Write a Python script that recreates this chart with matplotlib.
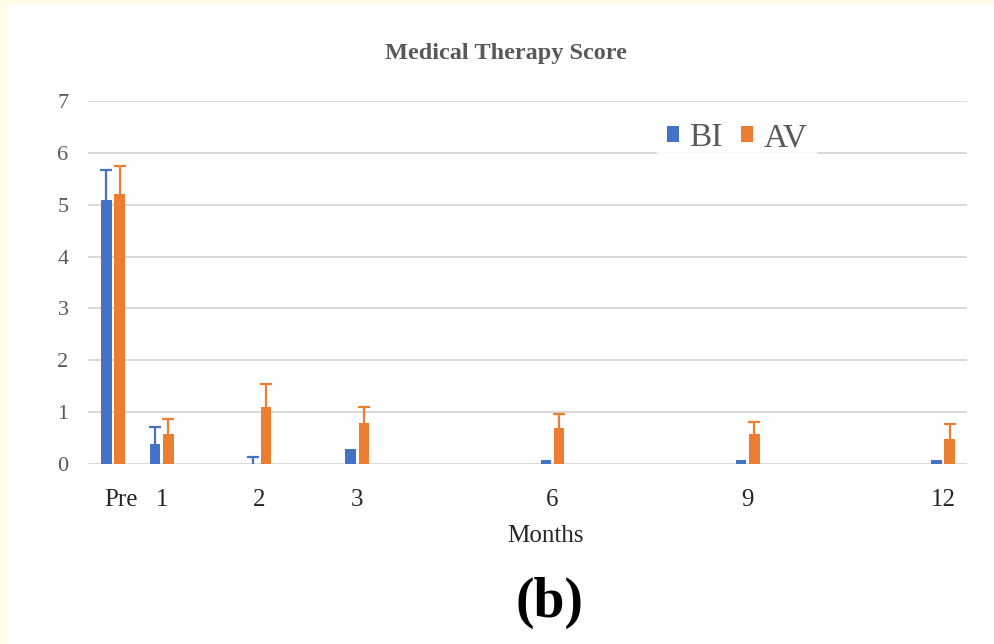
import numpy as np
import matplotlib.pyplot as plt
from matplotlib.transforms import ScaledTranslation

# values
months = ['Pre', '1', '2', '3', '6', '9', '12']
bi_mean = [5.1, 0.38, 0.0, 0.29, 0.08, 0.08, 0.08]
bi_err = [0.56, 0.33, 0.14, 0.0, 0.0, 0.0, 0.0]
av_mean = [5.2, 0.58, 1.09, 0.80, 0.70, 0.58, 0.48]
av_err = [0.54, 0.28, 0.46, 0.29, 0.27, 0.23, 0.29]

# layout: where each month group sits along the axis (uneven in the original)
slots = np.array([0, 0.5, 1.5, 2.5, 4.5, 6.5, 8.5])

blue = '#4472C4'
orange = '#ED7D31'
grey_txt = '#595959'
serif = ['Liberation Serif', 'DejaVu Serif']

fig = plt.figure(figsize=(9.95, 6.44), dpi=100)
fig.patch.set_facecolor('#FFFCE8')
# white panel, leaving the pale yellow strip on top and left
fig.patches.append(plt.Rectangle((8 / 995, 0), 1, 1 - 5 / 644,
                                 transform=fig.transFigure,
                                 facecolor='white', edgecolor='none', zorder=-10))

ax = fig.add_axes([88 / 995, 1 - 464 / 644, (967 - 88) / 995, (464 - 101) / 644])
ax.set_facecolor('none')

w = 0.107
off = 0.068
ax.bar(slots - off, bi_mean, w, color=blue, label='BI', zorder=3)
ax.bar(slots + off, av_mean, w, color=orange, label='AV', zorder=3)

# upper error bars only
for x, m, e, c in [(slots - off, bi_mean, bi_err, blue),
                   (slots + off, av_mean, av_err, orange)]:
    m = np.array(m)
    e = np.array(e)
    keep = e > 0
    eb = ax.errorbar(x[keep], m[keep], yerr=[np.zeros(keep.sum()), e[keep]],
                     fmt='none', ecolor=c, elinewidth=1.6, capsize=4.3,
                     capthick=1.6, zorder=4)
    eb[1][0].set_visible(False)

ax.set_xlim(-0.256, 8.745)
ax.set_ylim(0, 7)
ax.set_yticks(range(8))
ax.set_xticks(slots)
ax.set_xticklabels(months)
ax.grid(axis='y', color='#D9D9D9', linewidth=1.4, zorder=0)
ax.set_axisbelow(True)
for s in ax.spines.values():
    s.set_visible(False)
ax.tick_params(axis='both', length=0)
ax.tick_params(axis='y', pad=14, labelcolor=grey_txt, labelsize=16)
ax.tick_params(axis='x', pad=18, labelcolor='#262626', labelsize=18)
for t in ax.get_xticklabels() + ax.get_yticklabels():
    t.set_family(serif)
# "Pre" sits a little right of its bar pair in the original
pre = ax.get_xticklabels()[0]
pre.set_transform(pre.get_transform() + ScaledTranslation(8 / 100, 0, fig.dpi_scale_trans))

fig.text(506 / 995, 1 - 54 / 644, 'Medical Therapy Score', ha='center', va='center',
         family=serif, fontsize=17.5, fontweight='bold', color=grey_txt)
fig.text(545 / 995, 1 - 536 / 644, 'Months', ha='center', va='center',
         family=serif, fontsize=18, color='#262626')
fig.text(549 / 995, 1 - 603 / 644, '(b)', ha='center', va='center',
         family=serif, fontsize=40, fontweight='bold', color='black')

leg = ax.legend(loc='center', bbox_to_anchor=((737 - 88) / 879, (464 - 138) / 363),
                ncol=2, frameon=True, facecolor='white', edgecolor='none',
                framealpha=0.85, fancybox=False, handlelength=0.37, handleheight=0.37,
                handletextpad=0.3, columnspacing=0.55, borderpad=0.3,
                prop={'family': serif, 'size': 24})
for t in leg.get_texts():
    t.set_color(grey_txt)

fig.savefig('out.png', dpi=100)
